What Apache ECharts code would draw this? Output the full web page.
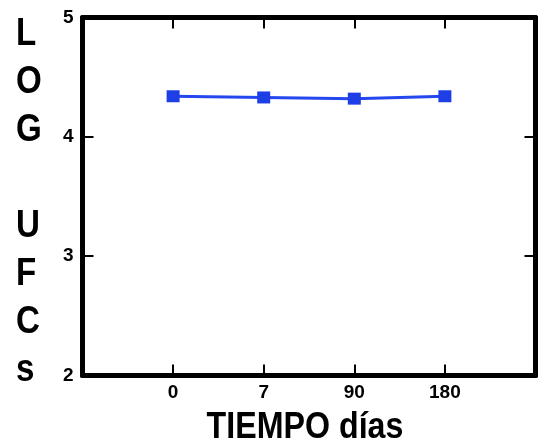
<!DOCTYPE html>
<html><head><meta charset="utf-8">
<script src="https://cdn.jsdelivr.net/npm/echarts@6/dist/echarts.min.js"></script>
<style>html,body{margin:0;padding:0;background:#fff}#c{width:541px;height:447px}</style>
</head><body><div id="c"></div>
<script>
const categories = ['0', '7', '90', '180'];
const logUfc = [4.34, 4.33, 4.32, 4.34];
const yTicks = [2, 3, 4, 5];
const xTitle = 'TIEMPO días';
const yTitle = 'L\nO\nG\n\nU\nF\nC\ns';

const axisCats = [''].concat(categories, ['']);
const seriesData = [null].concat(logUfc, [null]);
const font = '"Liberation Sans", Arial, sans-serif';
const lineStyle = { color: '#000', width: 5 };
const tickStyle = { color: '#000', width: 2 };
const innerTicks = (i) => i > 0 && i < axisCats.length - 1;

const chart = echarts.init(document.getElementById('c'));
chart.setOption({
  animation: false,
  grid: { left: 82.5, right: 5.5, top: 17.5, bottom: 71.5 },
  xAxis: [{
    type: 'category', data: axisCats, boundaryGap: false, position: 'bottom',
    axisLine: { lineStyle }, axisTick: { inside: true, length: 11, lineStyle: tickStyle, interval: innerTicks },
    axisLabel: { color: '#000', fontFamily: font, fontWeight: 'bold', fontSize: 19, margin: 8, interval: 0 },
    splitLine: { show: false }
  }, {
    type: 'category', data: axisCats, boundaryGap: false, position: 'top',
    axisLine: { lineStyle }, axisTick: { inside: true, length: 11, lineStyle: tickStyle, interval: innerTicks },
    axisLabel: { show: false }, splitLine: { show: false }
  }],
  yAxis: [{
    type: 'value', min: yTicks[0], max: yTicks[yTicks.length - 1], interval: 1, position: 'left',
    axisLine: { show: true, lineStyle }, axisTick: { show: true, inside: true, length: 11, lineStyle: tickStyle },
    axisLabel: { color: '#000', fontFamily: font, fontWeight: 'bold', fontSize: 19, margin: 9, verticalAlign: 'middle' },
    splitLine: { show: false }
  }, {
    type: 'value', min: yTicks[0], max: yTicks[yTicks.length - 1], interval: 1, position: 'right',
    axisLine: { show: true, lineStyle }, axisTick: { show: true, inside: true, length: 11, lineStyle: tickStyle },
    axisLabel: { show: false }, splitLine: { show: false }
  }],
  graphic: [{
    type: 'text', x: 16, y: 202, scaleX: 0.85,
    style: { text: yTitle, fill: '#000', font: 'bold 39px ' + font, lineHeight: 48, align: 'left', verticalAlign: 'middle' }
  }, {
    type: 'text', x: 305, y: 428, scaleX: 0.87,
    style: { text: xTitle, fill: '#000', font: 'bold 37px ' + font, align: 'center', verticalAlign: 'middle' }
  }],
  series: [{
    type: 'line', data: seriesData, xAxisIndex: 0, yAxisIndex: 0,
    symbol: 'rect', symbolSize: [13, 12], showSymbol: true,
    lineStyle: { color: '#2447ee', width: 3 },
    itemStyle: { color: '#1f3fe6' }
  }]
});
</script></body></html>
